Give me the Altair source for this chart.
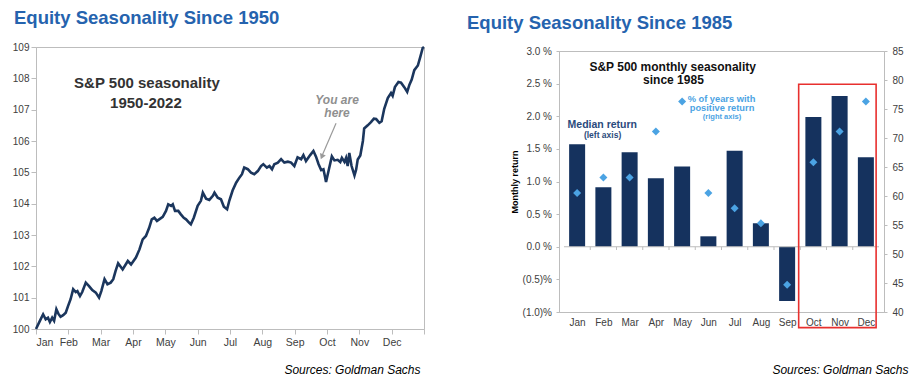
import altair as alt
import pandas as pd

MONTHS = ["Jan", "Feb", "Mar", "Apr", "May", "Jun", "Jul", "Aug", "Sep", "Oct", "Nov", "Dec"]

# ---- Left panel: S&P 500 seasonality 1950-2022 (position in year in months, index level)
season_month = [0.00, 0.12, 0.22, 0.30, 0.37, 0.43, 0.50, 0.56, 0.63, 0.69, 0.76, 0.84, 0.92, 0.99,
                1.07, 1.15, 1.23, 1.28, 1.36, 1.43, 1.54, 1.64, 1.74, 1.85, 1.95, 2.02, 2.12, 2.21,
                2.31, 2.39, 2.46, 2.54, 2.68, 2.84, 2.94, 3.09, 3.20, 3.30, 3.40, 3.50, 3.58, 3.66,
                3.74, 3.81, 3.92, 4.02, 4.09, 4.18, 4.23, 4.30, 4.40, 4.48, 4.57, 4.64, 4.74, 4.79,
                4.88, 5.00, 5.10, 5.16, 5.26, 5.36, 5.47, 5.52, 5.62, 5.72, 5.81, 5.91, 5.98, 6.08,
                6.19, 6.29, 6.37, 6.44, 6.55, 6.65, 6.75, 6.86, 6.96, 7.03, 7.14, 7.22, 7.30, 7.37,
                7.48, 7.58, 7.68, 7.79, 7.89, 7.99, 8.09, 8.20, 8.27, 8.35, 8.48, 8.58, 8.66, 8.74,
                8.82, 8.89, 8.94, 8.97, 9.04, 9.15, 9.23, 9.33, 9.41, 9.46, 9.54, 9.59, 9.64, 9.69,
                9.76, 9.85, 9.90, 9.95, 10.03, 10.11, 10.15, 10.26, 10.36, 10.45, 10.52, 10.62,
                10.69, 10.77, 10.88, 10.98, 11.03, 11.10, 11.21, 11.29, 11.39, 11.48, 11.55, 11.62,
                11.70, 11.81, 11.89, 11.96, 12.00]
season_level = [100.00, 100.26, 100.47, 100.31, 100.36, 100.22, 100.36, 100.26, 100.63, 100.49,
                100.39, 100.44, 100.52, 100.73, 100.95, 101.27, 101.18, 101.21, 101.05, 101.18,
                101.48, 101.37, 101.24, 101.16, 101.00, 101.21, 101.59, 101.43, 101.48, 101.59,
                101.85, 102.10, 101.90, 102.17, 102.06, 102.28, 102.54, 102.86, 102.97, 103.23,
                103.50, 103.55, 103.45, 103.50, 103.58, 103.77, 103.98, 103.93, 103.98, 103.77,
                103.77, 103.66, 103.55, 103.50, 103.39, 103.34, 103.55, 103.93, 104.09, 104.35,
                104.16, 104.12, 104.25, 104.35, 104.19, 104.14, 103.90, 103.82, 104.10, 104.42,
                104.67, 104.83, 104.94, 105.15, 105.10, 104.99, 104.94, 105.04, 105.20, 105.26,
                105.15, 105.20, 105.10, 105.26, 105.31, 105.42, 105.31, 105.34, 105.31, 105.20,
                105.48, 105.42, 105.55, 105.36, 105.55, 105.68, 105.50, 105.26, 105.07, 105.10,
                104.85, 104.69, 105.01, 105.51, 105.38, 105.40, 105.33, 105.46, 105.33, 105.46,
                105.20, 105.62, 105.20, 104.90, 105.08, 105.41, 105.54, 106.00, 106.40, 106.50,
                106.60, 106.71, 106.70, 106.58, 106.63, 107.03, 107.37, 107.53, 107.44, 107.72,
                107.88, 107.86, 107.72, 107.57, 107.80, 107.96, 108.26, 108.41, 108.70, 108.97,
                109.00]

# ---- Right panel: S&P 500 monthly seasonality since 1985
month_idx = list(range(12))
median_return = [1.57, 0.91, 1.45, 1.05, 1.23, 0.16, 1.47, 0.36, -0.83, 1.99, 2.31, 1.37]
pct_positive = [60.5, 63.2, 63.2, 71.1, 76.3, 60.5, 57.9, 55.3, 44.7, 65.8, 71.1, 76.3]

left_y_ticks = [100, 101, 102, 103, 104, 105, 106, 107, 108, 109]
ret_ticks = [-1.0, -0.5, 0.0, 0.5, 1.0, 1.5, 2.0, 2.5, 3.0]
pos_ticks = [40, 45, 50, 55, 60, 65, 70, 75, 80, 85]

FONT = "Arial, 'Liberation Sans', sans-serif"
NAVY = "#15325e"
LINE = "#1b365d"
LIGHT = "#4ba3e3"
TITLE_BLUE = "#2563ae"
GRID = "#bdbdbd"
LAB = "#404040"

month_expr = "['" + "','".join(MONTHS) + "'][datum.value] || ''"
pct_expr = ("datum.value < 0 ? '(' + format(-datum.value, '.1f') + ')%' "
            ": format(datum.value, '.1f') + ' %'")

# ================= LEFT PANEL =================
line_df = pd.DataFrame({"m": season_month, "v": season_level})

x_left = alt.X("m:Q", scale=alt.Scale(domain=[0, 12], nice=False, zero=False),
               axis=alt.Axis(values=list(range(13)), tickCount=13, labelExpr=month_expr,
                             labelOverlap=False, grid=False,
                             tickSize=5, labelPadding=3, labelFontSize=10.5, labelColor=LAB,
                             title="Sources: Goldman Sachs", titleFontStyle="italic",
                             titleFontWeight="normal", titleFontSize=12, titleColor="#000000",
                             titleAlign="right", titleBaseline="middle",
                             titleX=384, titleY=40))
y_left = alt.Y("v:Q", scale=alt.Scale(domain=[100, 109], nice=False, zero=False),
               axis=alt.Axis(values=left_y_ticks, tickCount=10, format="d", labelOverlap=False,
                             grid=False, tickSize=5, labelPadding=2, labelFontSize=10,
                             labelColor=LAB, title=None))

line = alt.Chart(line_df).mark_line(color=LINE, strokeWidth=2.6).encode(x=x_left, y=y_left)

left_title_df = pd.DataFrame({"m": [3.43, 3.40], "v": [107.85, 107.21],
                              "t": ["S&P 500 seasonality", "1950-2022"]})
left_title = alt.Chart(left_title_df).mark_text(
    fontSize=15, fontWeight="bold", color="#333333", font=FONT
).encode(x="m:Q", y="v:Q", text="t:N")

here_df = pd.DataFrame({"m": [9.31, 9.31], "v": [107.31, 106.89], "t": ["You are", "here"]})
here_text = alt.Chart(here_df).mark_text(
    fontSize=12, fontStyle="italic", fontWeight="bold", color="#8f8f8f", font=FONT
).encode(x="m:Q", y="v:Q", text="t:N")

arrow_df = pd.DataFrame({"m": [9.28], "m2": [8.86], "v": [106.57], "v2": [105.56]})
arrow = alt.Chart(arrow_df).mark_rule(color="#9a9a9a", strokeWidth=1.2).encode(
    x="m:Q", x2="m2", y="v:Q", y2="v2")
head_df = pd.DataFrame({"m": [8.84], "v": [105.50]})
head = alt.Chart(head_df).mark_point(
    shape="triangle-down", filled=True, size=40, angle=23, color="#9a9a9a", opacity=1
).encode(x="m:Q", y="v:Q")

left = alt.layer(line, left_title, here_text, arrow, head).properties(
    width=388, height=282,
    title=alt.TitleParams("Equity Seasonality Since 1950", anchor="start", frame="group",
                          dx=-22, fontSize=18.5, fontWeight="bold", color=TITLE_BLUE,
                          font=FONT, offset=14)
)

# ================= RIGHT PANEL =================
bar_df = pd.DataFrame({"i": month_idx, "r": median_return, "p": pct_positive})

x_right = alt.X("i:Q", scale=alt.Scale(domain=[-0.5, 11.5], nice=False, zero=False),
                axis=alt.Axis(values=month_idx, tickCount=12, labelExpr=month_expr,
                              labelOverlap=False, ticks=False, grid=False,
                              labelPadding=5, labelFontSize=10, labelColor=LAB,
                              title="Sources: Goldman Sachs", titleFontStyle="italic",
                              titleFontWeight="normal", titleFontSize=12, titleColor="#000000",
                              titleAlign="right", titleBaseline="middle",
                              titleX=349, titleY=57))
y_ret = alt.Y("r:Q", scale=alt.Scale(domain=[-1, 3], nice=False, zero=False),
              axis=alt.Axis(values=ret_ticks, tickCount=9, labelExpr=pct_expr,
                            labelOverlap=False, grid=False, tickSize=3, labelPadding=4.5,
                            labelFontSize=10, labelColor=LAB, title="Monthly return",
                            titleFontSize=9, titleFontWeight="bold", titleColor="#000000",
                            titlePadding=2.5))

bars = alt.Chart(bar_df).mark_bar(size=16, color=NAVY).encode(
    x=x_right, y=y_ret, y2=alt.datum(0))

zero_df = pd.DataFrame({"i": [-0.5], "i2": [11.5], "r": [0.0]})
zero_line = alt.Chart(zero_df).mark_rule(color=GRID, strokeWidth=1).encode(
    x="i:Q", x2="i2", y="r:Q")

tick_df = pd.DataFrame({"i": [k + 0.5 for k in range(11)], "r": [0.0] * 11, "r2": [-0.05] * 11})
zero_ticks = alt.Chart(tick_df).mark_rule(color=GRID, strokeWidth=1).encode(
    x="i:Q", y="r:Q", y2="r2")

box_df = pd.DataFrame({"i": [8.44], "i2": [11.39], "r": [2.49], "r2": [-1.24]})
box = alt.Chart(box_df).mark_rect(
    fillOpacity=0, stroke="#e8302e", strokeWidth=1.6, clip=False
).encode(x="i:Q", x2="i2", y="r:Q", y2="r2")

head_r_df = pd.DataFrame({"i": [3.64, 3.67], "r": [2.75, 2.56],
                          "t": ["S&P 500 monthly seasonality", "since 1985"]})
head_r = alt.Chart(head_r_df).mark_text(
    fontSize=12, fontWeight="bold", color="#111111", font=FONT
).encode(x="i:Q", y="r:Q", text="t:N")

med_df = pd.DataFrame({"i": [0.96], "r": [1.87], "t": ["Median return"]})
med = alt.Chart(med_df).mark_text(
    fontSize=10.5, fontWeight="bold", color="#2b4a7c", font=FONT
).encode(x="i:Q", y="r:Q", text="t:N")
med_sub_df = pd.DataFrame({"i": [0.97], "r": [1.71], "t": ["(left axis)"]})
med_sub = alt.Chart(med_sub_df).mark_text(
    fontSize=8.5, fontWeight="bold", color="#2b4a7c", font=FONT
).encode(x="i:Q", y="r:Q", text="t:N")

pos_df = pd.DataFrame({"i": [5.50, 5.52], "r": [2.27, 2.12],
                       "t": ["% of years with", "positive return"]})
pos = alt.Chart(pos_df).mark_text(
    fontSize=9.3, fontWeight="bold", color=LIGHT, font=FONT
).encode(x="i:Q", y="r:Q", text="t:N")
pos_sub_df = pd.DataFrame({"i": [5.52], "r": [1.99], "t": ["(right axis)"]})
pos_sub = alt.Chart(pos_sub_df).mark_text(
    fontSize=7.5, fontWeight="bold", color=LIGHT, font=FONT
).encode(x="i:Q", y="r:Q", text="t:N")

ret_layer = alt.layer(bars, zero_line, zero_ticks, box, head_r, med, med_sub, pos, pos_sub)

diamonds = alt.Chart(bar_df).mark_point(
    shape="diamond", filled=True, size=64, color=LIGHT, opacity=1
).encode(
    x="i:Q",
    y=alt.Y("p:Q", scale=alt.Scale(domain=[40, 85], nice=False, zero=False),
            axis=alt.Axis(orient="right", values=pos_ticks, tickCount=10, labelOverlap=False,
                          grid=False, tickSize=3, labelPadding=5, labelFontSize=10,
                          labelColor=LAB, title=None)),
)

right = alt.layer(ret_layer, diamonds).resolve_scale(y="independent").properties(
    width=325, height=261
)

# invisible 4px spacer that carries the right-hand title and lowers the right plot
spacer = alt.Chart(pd.DataFrame({"a": [0]})).mark_point(opacity=0).properties(
    width=325, height=4, view=alt.ViewBackground(strokeWidth=0, stroke="transparent"),
    title=alt.TitleParams("Equity Seasonality Since 1985", anchor="start", frame="group",
                          dx=-92, fontSize=18.5, fontWeight="bold", color=TITLE_BLUE,
                          font=FONT, offset=14)
)

right_col = alt.vconcat(spacer, right, spacing=0, bounds="flush")

chart = alt.hconcat(left, right_col, spacing=37).properties(
    padding={"left": 3, "top": 0, "right": 0, "bottom": 0}
).configure(font=FONT).configure_view(stroke=GRID, strokeWidth=1).configure_axis(
    domainColor=GRID, tickColor=GRID, labelFont=FONT, titleFont=FONT, labelOverlap=False
)

chart.save("out.html", embed_options={"renderer": "svg", "actions": False})
